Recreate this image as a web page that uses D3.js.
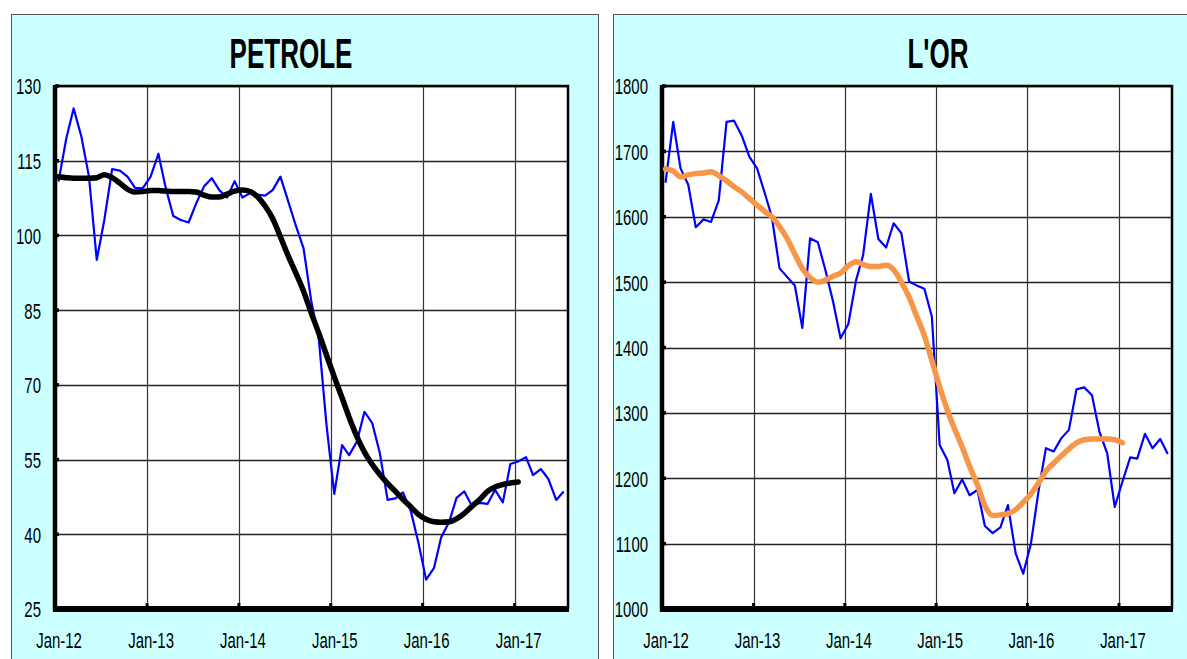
<!DOCTYPE html>
<html>
<head>
<meta charset="utf-8">
<script src="https://cdn.jsdelivr.net/npm/d3@7"></script>
<style>
  body { margin: 0; background: #fff; }
  svg { display: block; }
</style>
</head>
<body>
<svg id="chart" width="1187" height="659"></svg>
<script>
// monthly values, Jan-12 .. Jul-17
const oilPrice = [110.8, 119.5, 125.5, 119.8, 111.8, 95.1, 103.1, 113.3, 113.0, 111.8, 109.5, 109.5,
  111.8, 116.4, 109.8, 103.9, 103.1, 102.6, 106.4, 109.8, 111.5, 109.1, 107.6, 110.9,
  107.6, 108.5, 108.2, 108.0, 109.1, 111.8, 107.0, 102.0, 97.4, 87.0, 79.0, 62.0,
  48.1, 57.9, 55.9, 58.6, 64.6, 62.3, 56.3, 46.9, 47.2, 48.4, 44.7, 38.4,
  30.9, 33.2, 39.4, 42.4, 47.3, 48.6, 45.7, 46.3, 46.1, 48.9, 46.4, 54.1,
  54.6, 55.5, 51.9, 53.1, 51.1, 46.9, 48.6];
// smoothed trend, Jan-12 .. Jan-17
const oilTrend = [111.8, 111.6, 111.5, 111.5, 111.5, 111.6, 112.2, 111.6, 110.5, 109.3, 108.7, 108.8,
  109.0, 109.0, 108.9, 108.8, 108.8, 108.8, 108.7, 108.1, 107.7, 107.7, 108.3, 108.9,
  109.1, 108.8, 107.8, 105.9, 103.4, 99.7, 96.0, 92.5, 88.8, 84.5, 80.3, 76.0,
  71.6, 67.4, 63.5, 59.6, 56.5, 54.0, 52.0, 50.2, 48.6, 47.0, 45.5, 44.0,
  43.0, 42.5, 42.4, 42.5, 43.1, 44.2, 45.6, 47.0, 48.6, 49.5, 50.0, 50.3, 50.5];

const goldPrice = [1652, 1745, 1674, 1649, 1584, 1596, 1592, 1625, 1745, 1747, 1724, 1692,
  1674, 1636, 1600, 1521, 1508, 1495, 1430, 1567, 1561, 1519, 1470, 1414,
  1436, 1503, 1541, 1635, 1566, 1553, 1590, 1575, 1501, 1495, 1490, 1447,
  1251, 1228, 1177, 1198, 1174, 1182, 1127, 1116, 1125, 1159, 1085, 1054,
  1100, 1182, 1246, 1241, 1261, 1274, 1336, 1339, 1327, 1271, 1238, 1156,
  1195, 1232, 1230, 1268, 1246, 1260, 1237];
const goldTrend = [1673, 1670, 1661, 1664, 1666, 1667, 1669, 1663, 1655, 1646, 1638, 1628,
  1618, 1608, 1600, 1585, 1567, 1543, 1521, 1507, 1500, 1503, 1509, 1514,
  1525, 1531, 1527, 1524, 1524, 1526, 1519, 1500, 1477, 1448, 1418, 1380,
  1340, 1304, 1276, 1248, 1218, 1190, 1158, 1143, 1144, 1146, 1152, 1163,
  1176, 1193, 1211, 1223, 1234, 1245, 1254, 1259, 1260, 1260, 1260, 1259, 1254];

const yearLabels = ["Jan-12", "Jan-13", "Jan-14", "Jan-15", "Jan-16", "Jan-17"];
const oilTicks = [25, 40, 55, 70, 85, 100, 115, 130];
const goldTicks = [1000, 1100, 1200, 1300, 1400, 1500, 1600, 1700, 1800];

const svg = d3.select("#chart");
const squeeze = 0.62;      // title
const labelSqueeze = 0.68; // tick labels
const font = "'Liberation Sans', Arial, sans-serif";

const monthDate = i => new Date(2012, i, 15);

function drawPanel(cfg) {
    const g = svg.append("g");

    g.append("rect")
        .attr("x", cfg.panel[0] + 0.5).attr("y", 14.5)
        .attr("width", cfg.panel[1] - cfg.panel[0]).attr("height", 700)
        .attr("fill", "#ccffff").attr("stroke", "#555").attr("stroke-width", 1);

    const x = d3.scaleTime()
        .domain([new Date(2012, 0, 1), new Date(2017, 7, 1)])
        .range([cfg.left, cfg.right]);
    const y = d3.scaleLinear()
        .domain(cfg.domain)
        .range([609, 86]);

    g.append("rect")
        .attr("x", cfg.left).attr("y", 86)
        .attr("width", cfg.right - cfg.left).attr("height", 609 - 86)
        .attr("fill", "#fff");

    // grid
    g.selectAll(".hgrid")
        .data(cfg.ticks.slice(1))
        .enter().append("line")
        .attr("x1", cfg.left).attr("x2", cfg.right)
        .attr("y1", d => Math.round(y(d)) + 0.5).attr("y2", d => Math.round(y(d)) + 0.5)
        .attr("stroke", "#222").attr("stroke-width", 1.3);

    const years = yearLabels.map((d, i) => new Date(2012 + i, 0, 1));
    g.selectAll(".vgrid")
        .data(years.slice(1))
        .enter().append("line")
        .attr("x1", d => Math.round(x(d)) + 0.5).attr("x2", d => Math.round(x(d)) + 0.5)
        .attr("y1", 86).attr("y2", 609)
        .attr("stroke", "#333").attr("stroke-width", 1.2);

    // border top/right
    g.append("path")
        .attr("d", `M${cfg.left},86H${cfg.right}V609`)
        .attr("fill", "none").attr("stroke", "#000").attr("stroke-width", 2.5);

    // axes
    g.append("line")
        .attr("x1", cfg.left).attr("x2", cfg.left).attr("y1", 85).attr("y2", 611)
        .attr("stroke", "#000").attr("stroke-width", 4.5);
    g.append("line")
        .attr("x1", cfg.left - 2).attr("x2", cfg.right + 1).attr("y1", 609).attr("y2", 609)
        .attr("stroke", "#000").attr("stroke-width", 6);

    g.selectAll(".ytick")
        .data(cfg.ticks)
        .enter().append("line")
        .attr("x1", cfg.left).attr("x2", cfg.left + 4)
        .attr("y1", d => y(d)).attr("y2", d => y(d))
        .attr("stroke", "#000").attr("stroke-width", 3.5);
    g.selectAll(".xtick")
        .data(years)
        .enter().append("line")
        .attr("x1", d => x(d)).attr("x2", d => x(d))
        .attr("y1", 603).attr("y2", 609)
        .attr("stroke", "#000").attr("stroke-width", 3);

    // labels
    const yAxis = d3.axisLeft(y).tickValues(cfg.ticks).tickFormat(d3.format("d")).tickSize(0);
    const ya = g.append("g").attr("transform", `translate(${cfg.left},0)`).call(yAxis);
    ya.select(".domain").remove();
    ya.selectAll("text")
        .attr("x", -14 / labelSqueeze).attr("dy", "0.36em")
        .attr("transform", `scale(${labelSqueeze},1)`)
        .style("font-family", font).style("font-size", "22px").attr("fill", "#000");

    const xAxis = d3.axisBottom(x)
        .tickValues(yearLabels.map((d, i) => new Date(2012 + i, 0, 15)))
        .tickFormat((d, i) => yearLabels[i])
        .tickSize(0);
    const xa = g.append("g").attr("transform", "translate(0,609)").call(xAxis);
    xa.select(".domain").remove();
    xa.selectAll("text")
        .attr("y", 39).attr("dy", 0)
        .attr("transform", `scale(${labelSqueeze},1)`)
        .style("font-family", font).style("font-size", "22px").attr("fill", "#000");
    xa.selectAll(".tick text").attr("x", 0);

    // title
    g.append("text")
        .attr("transform", `translate(${cfg.titleX},68) scale(${squeeze},1)`)
        .attr("text-anchor", "middle")
        .style("font-family", font).style("font-size", "42px").style("font-weight", "bold")
        .text(cfg.title);

    // series
    const raw = d3.line()
        .x((d, i) => x(monthDate(i)))
        .y(d => y(d));
    const smooth = d3.line()
        .x((d, i) => x(monthDate(i)))
        .y(d => y(d))
        .curve(d3.curveMonotoneX);

    g.append("path")
        .datum(cfg.raw)
        .attr("d", raw)
        .attr("fill", "none").attr("stroke", "#0000ff").attr("stroke-width", 2.2)
        .attr("stroke-linejoin", "round");
    g.append("path")
        .datum(cfg.trend)
        .attr("d", smooth)
        .attr("fill", "none").attr("stroke", cfg.trendColor).attr("stroke-width", 5.5)
        .attr("stroke-linecap", "round").attr("stroke-linejoin", "round");
}

drawPanel({
    panel: [11, 598], left: 55, right: 568,
    domain: [25, 130], ticks: oilTicks,
    title: "PETROLE", titleX: 291,
    raw: oilPrice, trend: oilTrend, trendColor: "#000"
});

drawPanel({
    panel: [613, 1200], left: 662, right: 1172,
    domain: [1000, 1800], ticks: goldTicks,
    title: "L'OR", titleX: 938,
    raw: goldPrice, trend: goldTrend, trendColor: "#f79646"
});
</script>
</body>
</html>
